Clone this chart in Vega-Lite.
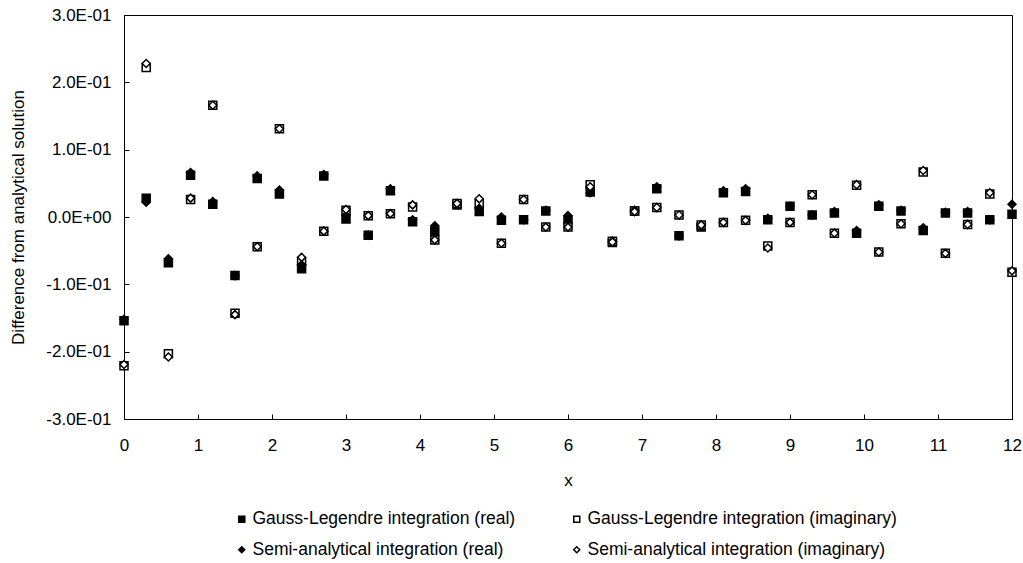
{
  "$schema": "https://vega.github.io/schema/vega-lite/v6.json",
  "width": 888,
  "height": 404,
  "autosize": {"type": "none"},
  "padding": {"left": 124, "top": 15, "right": 11, "bottom": 144},
  "background": "white",
  "config": {
    "view": {"stroke": "black", "strokeWidth": 1},
    "font": "Liberation Sans",
    "axis": {
      "grid": false,
      "domainColor": "black",
      "tickColor": "black",
      "labelColor": "black",
      "titleColor": "black",
      "labelFont": "Liberation Sans",
      "titleFont": "Liberation Sans",
      "labelFontSize": 17,
      "titleFontSize": 17,
      "titleFontWeight": "normal"
    },
    "legend": {
      "labelFont": "Liberation Sans",
      "labelColor": "black"
    }
  },
  "data": {
    "values": [
      {"x": 0, "GLr": -0.154, "GLi": -0.221, "SAr": -0.152, "SAi": -0.219},
      {"x": 0.3, "GLr": 0.028, "GLi": 0.222, "SAr": 0.022, "SAi": 0.228},
      {"x": 0.6, "GLr": -0.068, "GLi": -0.203, "SAr": -0.062, "SAi": -0.208},
      {"x": 0.9, "GLr": 0.062, "GLi": 0.026, "SAr": 0.066, "SAi": 0.028},
      {"x": 1.2, "GLr": 0.019, "GLi": 0.166, "SAr": 0.023, "SAi": 0.166},
      {"x": 1.5, "GLr": -0.087, "GLi": -0.143, "SAr": -0.087, "SAi": -0.145},
      {"x": 1.8, "GLr": 0.057, "GLi": -0.044, "SAr": 0.061, "SAi": -0.044},
      {"x": 2.1, "GLr": 0.034, "GLi": 0.131, "SAr": 0.04, "SAi": 0.131},
      {"x": 2.4, "GLr": -0.077, "GLi": -0.066, "SAr": -0.071, "SAi": -0.06},
      {"x": 2.7, "GLr": 0.061, "GLi": -0.021, "SAr": 0.063, "SAi": -0.021},
      {"x": 3.0, "GLr": -0.003, "GLi": 0.01, "SAr": 0.002, "SAi": 0.011},
      {"x": 3.3, "GLr": -0.027, "GLi": 0.002, "SAr": -0.027, "SAi": 0.002},
      {"x": 3.6, "GLr": 0.039, "GLi": 0.005, "SAr": 0.042, "SAi": 0.005},
      {"x": 3.9, "GLr": -0.007, "GLi": 0.015, "SAr": -0.004, "SAi": 0.018},
      {"x": 4.2, "GLr": -0.021, "GLi": -0.034, "SAr": -0.013, "SAi": -0.034},
      {"x": 4.5, "GLr": 0.018, "GLi": 0.02, "SAr": 0.02, "SAi": 0.02},
      {"x": 4.8, "GLr": 0.008, "GLi": 0.02, "SAr": 0.013, "SAi": 0.027},
      {"x": 5.1, "GLr": -0.005, "GLi": -0.039, "SAr": 0.0, "SAi": -0.039},
      {"x": 5.4, "GLr": -0.004, "GLi": 0.026, "SAr": -0.004, "SAi": 0.026},
      {"x": 5.7, "GLr": 0.009, "GLi": -0.015, "SAr": 0.01, "SAi": -0.015},
      {"x": 6.0, "GLr": -0.004, "GLi": -0.015, "SAr": 0.002, "SAi": -0.015},
      {"x": 6.3, "GLr": 0.037, "GLi": 0.048, "SAr": 0.036, "SAi": 0.045},
      {"x": 6.6, "GLr": -0.038, "GLi": -0.036, "SAr": -0.036, "SAi": -0.037},
      {"x": 6.9, "GLr": 0.009, "GLi": 0.009, "SAr": 0.01, "SAi": 0.008},
      {"x": 7.2, "GLr": 0.042, "GLi": 0.014, "SAr": 0.045, "SAi": 0.014},
      {"x": 7.5, "GLr": -0.028, "GLi": 0.003, "SAr": -0.028, "SAi": 0.003},
      {"x": 7.8, "GLr": -0.015, "GLi": -0.012, "SAr": -0.012, "SAi": -0.012},
      {"x": 8.1, "GLr": 0.036, "GLi": -0.008, "SAr": 0.039, "SAi": -0.008},
      {"x": 8.4, "GLr": 0.038, "GLi": -0.005, "SAr": 0.042, "SAi": -0.005},
      {"x": 8.7, "GLr": -0.004, "GLi": -0.043, "SAr": -0.002, "SAi": -0.046},
      {"x": 9.0, "GLr": 0.016, "GLi": -0.008, "SAr": 0.016, "SAi": -0.008},
      {"x": 9.3, "GLr": 0.003, "GLi": 0.033, "SAr": 0.003, "SAi": 0.033},
      {"x": 9.6, "GLr": 0.006, "GLi": -0.024, "SAr": 0.008, "SAi": -0.024},
      {"x": 9.9, "GLr": -0.024, "GLi": 0.047, "SAr": -0.02, "SAi": 0.048},
      {"x": 10.2, "GLr": 0.016, "GLi": -0.052, "SAr": 0.018, "SAi": -0.052},
      {"x": 10.5, "GLr": 0.009, "GLi": -0.01, "SAr": 0.01, "SAi": -0.01},
      {"x": 10.8, "GLr": -0.02, "GLi": 0.067, "SAr": -0.016, "SAi": 0.069},
      {"x": 11.1, "GLr": 0.006, "GLi": -0.054, "SAr": 0.007, "SAi": -0.054},
      {"x": 11.4, "GLr": 0.006, "GLi": -0.011, "SAr": 0.008, "SAi": -0.011},
      {"x": 11.7, "GLr": -0.004, "GLi": 0.034, "SAr": -0.004, "SAi": 0.036},
      {"x": 12.0, "GLr": 0.004, "GLi": -0.082, "SAr": 0.019, "SAi": -0.08}
    ]
  },
  "transform": [{"fold": ["GLr", "GLi", "SAr", "SAi"], "as": ["series", "value"]}],
  "mark": {"type": "point", "filled": true, "stroke": "black", "strokeWidth": 1.5, "size": 64, "opacity": 1},
  "encoding": {
    "x": {
      "field": "x",
      "type": "quantitative",
      "scale": {"domain": [0, 12], "nice": false, "zero": false},
      "axis": {
        "values": [0, 1, 2, 3, 4, 5, 6, 7, 8, 9, 10, 11, 12],
        "title": "x",
        "tickSize": -5,
        "labelPadding": 23,
        "titlePadding": 19,
        "labelFlush": false
      }
    },
    "y": {
      "field": "value",
      "type": "quantitative",
      "scale": {"domain": [-0.3, 0.3], "nice": false, "zero": false},
      "axis": {
        "values": [-0.3, -0.2, -0.1, 0, 0.1, 0.2, 0.3],
        "labelExpr": "datum.value == 0 ? '0.0E+00' : (datum.value < 0 ? '-' : '') + format(abs(datum.value) * 10, '.1f') + 'E-01'",
        "title": "Difference from analytical solution",
        "tickSize": -5,
        "labelPadding": 18,
        "titlePadding": 18,
        "labelFlush": false
      }
    },
    "shape": {
      "field": "series",
      "type": "nominal",
      "scale": {"domain": ["GLr", "GLi", "SAr", "SAi"], "range": ["square", "square", "diamond", "diamond"]},
      "legend": {
        "orient": "none", "legendX": 109, "legendY": 495, "columns": 2, "direction": "horizontal", "title": null,
        "labelFontSize": 17.5, "labelLimit": 500, "symbolSize": 36, "rowPadding": 12, "columnPadding": 52, "labelOffset": 2,
        "labelExpr": "datum.label == 'GLr' ? 'Gauss-Legendre integration (real)' : datum.label == 'GLi' ? 'Gauss-Legendre integration (imaginary)' : datum.label == 'SAr' ? 'Semi-analytical integration (real)' : 'Semi-analytical integration (imaginary)'",
        "encode": {"symbols": {"update": {"stroke": {"value": "black"}, "strokeWidth": {"value": 1.3}}}}
      }
    },
    "fill": {
      "field": "series",
      "type": "nominal",
      "scale": {"domain": ["GLr", "GLi", "SAr", "SAi"], "range": ["black", "white", "black", "white"]},
      "legend": {
        "orient": "none", "legendX": 109, "legendY": 495, "columns": 2, "direction": "horizontal", "title": null,
        "labelFontSize": 17.5, "labelLimit": 500, "symbolSize": 36, "rowPadding": 12, "columnPadding": 52, "labelOffset": 2,
        "labelExpr": "datum.label == 'GLr' ? 'Gauss-Legendre integration (real)' : datum.label == 'GLi' ? 'Gauss-Legendre integration (imaginary)' : datum.label == 'SAr' ? 'Semi-analytical integration (real)' : 'Semi-analytical integration (imaginary)'",
        "encode": {"symbols": {"update": {"stroke": {"value": "black"}, "strokeWidth": {"value": 1.3}}}}
      }
    }
  }
}
